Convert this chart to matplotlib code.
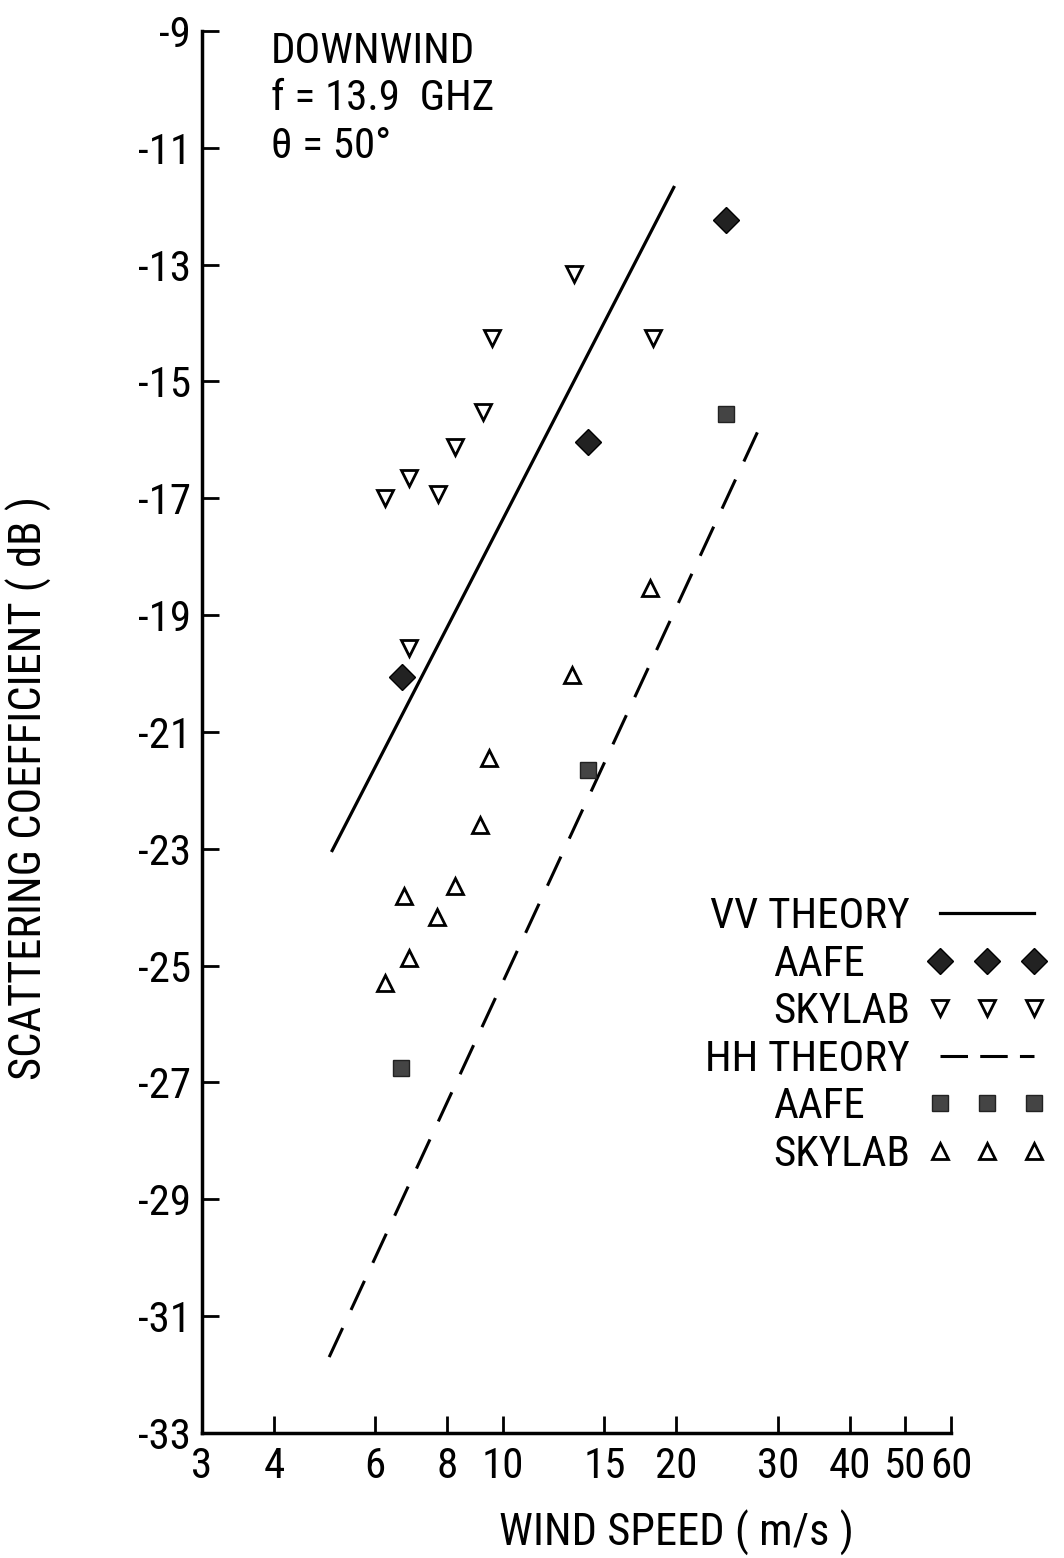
import numpy as np
import matplotlib
matplotlib.use("Agg")
import matplotlib.pyplot as plt
from matplotlib.lines import Line2D
from matplotlib import font_manager

# wind speed (m/s) and scattering coefficient (dB)
vv_aafe_x = [6.69, 14.07, 24.4]
vv_aafe_y = [-20.06, -16.03, -12.24]
vv_sky_x = [6.23, 6.88, 7.70, 8.24, 9.22, 9.56, 13.3, 18.2, 6.88]
vv_sky_y = [-17.0, -16.65, -16.92, -16.13, -15.52, -14.26, -13.16, -14.26, -19.56]
hh_aafe_x = [6.64, 14.07, 24.4]
hh_aafe_y = [-26.75, -21.65, -15.55]
hh_sky_x = [6.23, 6.74, 6.88, 7.67, 8.24, 9.12, 9.45, 13.2, 18.0]
hh_sky_y = [-25.30, -23.80, -24.87, -24.17, -23.64, -22.60, -21.44, -20.02, -18.54]
vv_theory_x = [5.05, 19.8]
vv_theory_y = [-23.03, -11.68]
hh_theory_x = [4.99, 28.3]
hh_theory_y = [-31.70, -15.66]

xticks = [3, 4, 6, 8, 10, 15, 20, 30, 40, 50, 60]
yticks = list(range(-33, -8, 2))

# narrow typewriter-like lettering in the original: use a condensed face if there is one
names = {f.name for f in font_manager.fontManager.ttflist}
fam = ["DejaVu Sans"]
fs, lspace = 25, 0.3
for cand in ["Roboto Condensed", "Liberation Sans Narrow"]:
    if cand in names:
        fam = [cand, "DejaVu Sans"]
        fs, lspace = 31, 0.15
        break
plt.rcParams["font.family"] = fam
plt.rcParams["axes.unicode_minus"] = False

dash = (0, (10.5, 6.5))

fig = plt.figure(figsize=(10.64, 15.58), dpi=100)
ax = fig.add_axes([0.1898, 0.0802, 0.704, 0.900])

ax.plot(vv_theory_x, vv_theory_y, color="k", lw=2.3)
ax.plot(hh_theory_x, hh_theory_y, color="k", lw=2.2, ls=dash)
ax.plot(vv_aafe_x, vv_aafe_y, ls="none", marker="D", ms=13, color="#222222", mec="k")
ax.plot(vv_sky_x, vv_sky_y, ls="none", marker="v", ms=11, mfc="white", mec="k", mew=2)
ax.plot(hh_aafe_x, hh_aafe_y, ls="none", marker="s", ms=12, color="#444444", mec="#222222")
ax.plot(hh_sky_x, hh_sky_y, ls="none", marker="^", ms=11, mfc="white", mec="k", mew=2)

ax.set_xscale("log")
ax.set_xlim(3, 60)
ax.set_ylim(-33, -9)
ax.set_xticks(xticks)
ax.set_xticklabels([str(t) for t in xticks])
ax.xaxis.set_minor_locator(plt.NullLocator())
ax.set_yticks(yticks)
ax.set_yticklabels([str(t) for t in yticks])
ax.tick_params(direction="in", length=12, width=2, labelsize=fs)
ax.tick_params(axis="y", pad=8)
ax.tick_params(axis="x", pad=9)
for s in ["top", "right"]:
    ax.spines[s].set_visible(False)
for s in ["left", "bottom"]:
    ax.spines[s].set_linewidth(2.5)

ax.set_ylabel("SCATTERING COEFFICIENT ( dB )", fontsize=fs + 1)
ax.yaxis.set_label_coords(-0.20, 0.46)
ax.set_xlabel("WIND SPEED ( m/s )", fontsize=fs + 1)
ax.xaxis.set_label_coords(0.634, -0.055)

ax.text(0.092, 1.0, "DOWNWIND\nf = 13.9  GHZ\n\u03b8 = 50\u00b0", transform=ax.transAxes,
        va="top", ha="left", fontsize=fs, linespacing=1.2)

handles = [
    Line2D([], [], color="k", lw=2.3),
    Line2D([], [], ls="none", marker="D", ms=13, color="#222222", mec="k"),
    Line2D([], [], ls="none", marker="v", ms=11, mfc="white", mec="k", mew=2),
    Line2D([], [], color="k", lw=2.2, ls=(0, (9, 4))),
    Line2D([], [], ls="none", marker="s", ms=12, color="#444444", mec="#222222"),
    Line2D([], [], ls="none", marker="^", ms=11, mfc="white", mec="k", mew=2),
]
labels = ["VV THEORY", "AAFE", "SKYLAB", "HH THEORY", "AAFE", "SKYLAB"]
leg = ax.legend(handles, labels, loc="upper left", bbox_to_anchor=(0.6626, 0.4247),
                bbox_transform=fig.transFigure, markerfirst=False, numpoints=3,
                frameon=False, fontsize=fs, handlelength=120 / (fs * 100 / 72),
                handletextpad=0.4, labelspacing=lspace, borderpad=0, borderaxespad=0)

# indent the AAFE rows so they start where SKYLAB starts
fig.canvas.draw()
r = fig.canvas.get_renderer()
txts = leg.get_texts()
for i, j in ((1, 2), (4, 5)):
    dx = txts[j].get_window_extent(r).x0 - txts[i].get_window_extent(r).x0
    txts[i].set_x(dx)

fig.savefig("out.png", dpi=100)
